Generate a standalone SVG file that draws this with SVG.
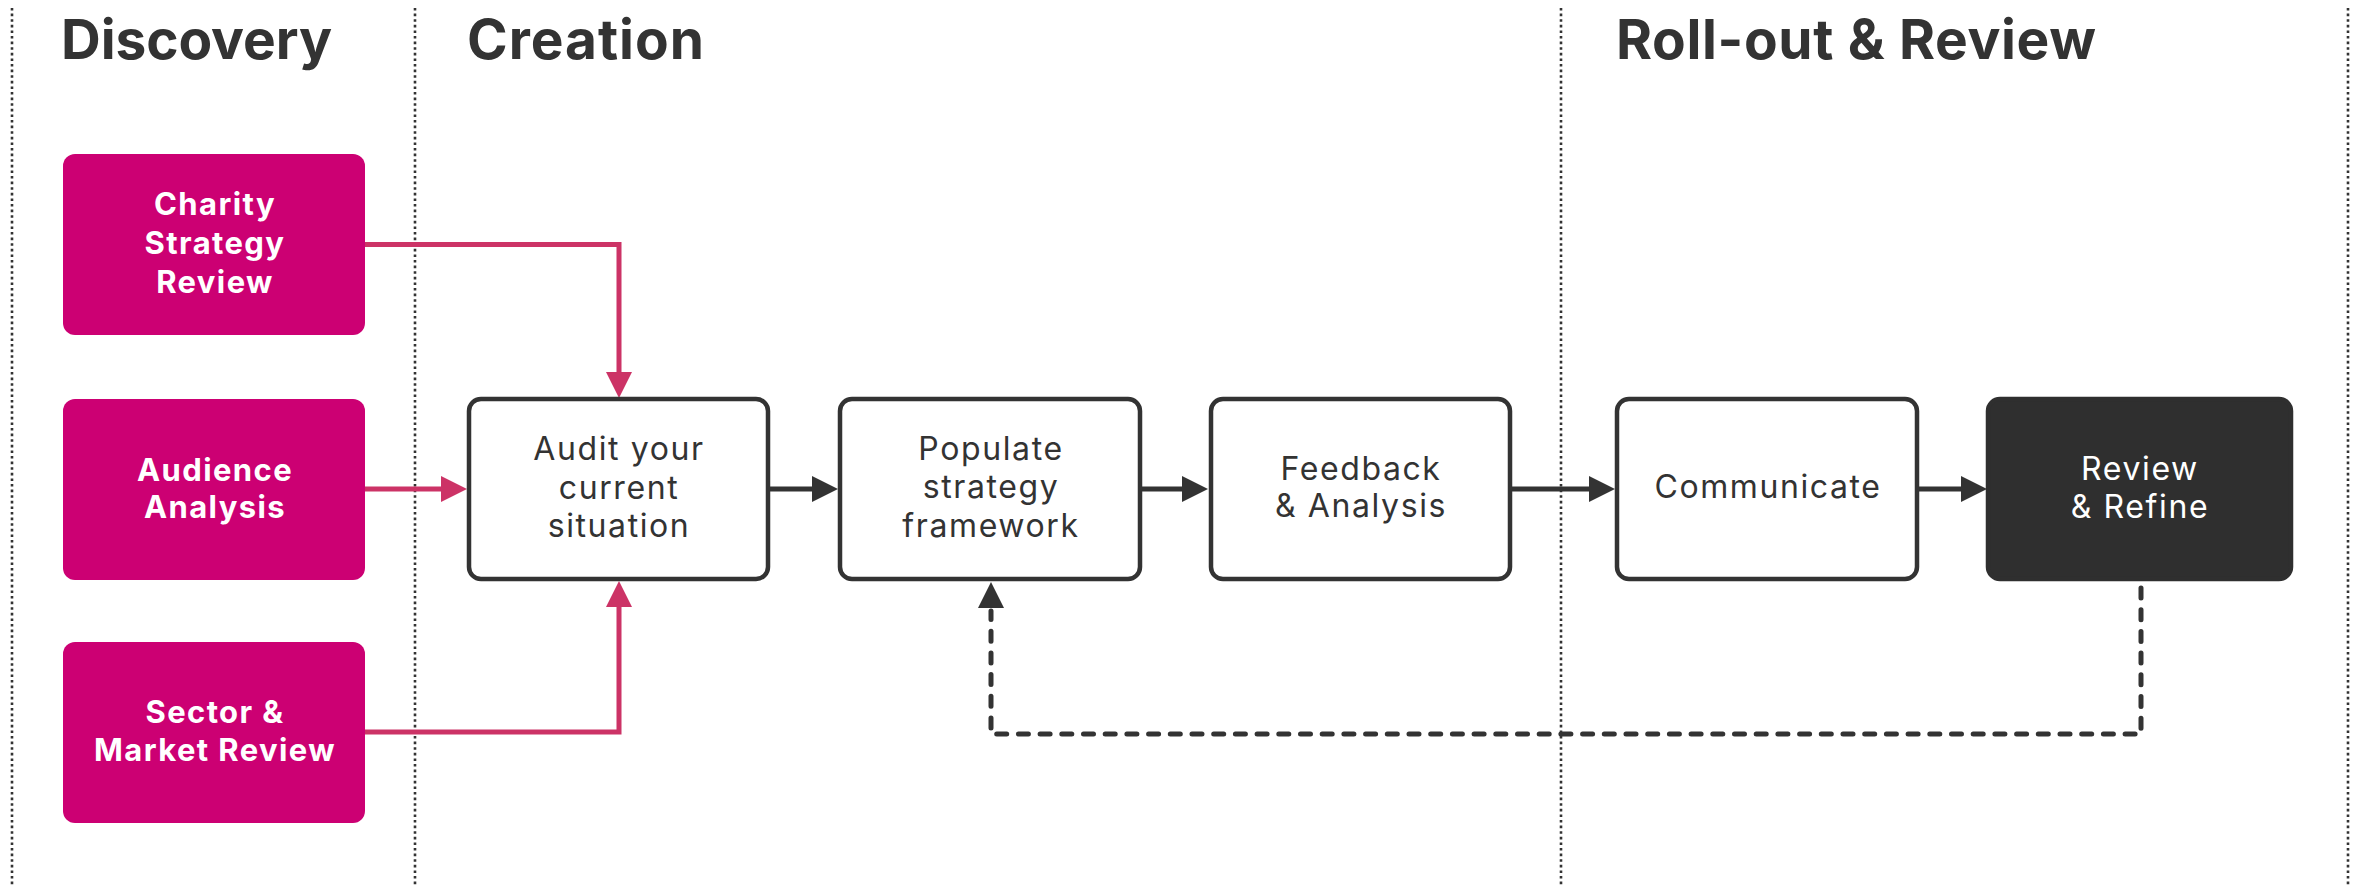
<svg xmlns="http://www.w3.org/2000/svg" width="2356" height="887" viewBox="0 0 2356 887">
  <style>
    .lane { stroke: #333333; stroke-width: 2.6; stroke-dasharray: 2.6 3; fill: none; }
    .heading { font-family: Inter, "Open Sans", sans-serif; font-weight: 700; font-size: 55px; fill: #333333; }
    .source rect { fill: #CC0073; }
    .source text { font-family: Inter, "Open Sans", sans-serif; font-weight: 700; font-size: 31px; letter-spacing: 1.4px; fill: #FFFFFF; text-anchor: middle; }
    .step rect { fill: #FFFFFF; stroke: #333333; stroke-width: 4.5; }
    .step text { font-family: Inter, "Open Sans", sans-serif; font-weight: 400; font-size: 32px; letter-spacing: 1.6px; fill: #333333; text-anchor: middle; }
    .step.dark rect { fill: #2F2F2F; stroke: #2F2F2F; }
    .step.dark text { fill: #FFFFFF; }
    .link-pink { fill: none; stroke: #CC3366; stroke-width: 5; }
    .link-dark { fill: none; stroke: #333333; stroke-width: 5; }
    .link-loop { fill: none; stroke: #333333; stroke-width: 5; stroke-dasharray: 10 11.7; stroke-linecap: round; stroke-linejoin: round; }
  </style>
  <defs>
    <marker id="head-pink" markerUnits="userSpaceOnUse" viewBox="0 0 26 26" markerWidth="26" markerHeight="26" refX="0" refY="13" orient="auto">
      <path d="M0,0 L26,13 L0,26 Z" fill="#CC3366"/>
    </marker>
    <marker id="head-dark" markerUnits="userSpaceOnUse" viewBox="0 0 26 26" markerWidth="26" markerHeight="26" refX="0" refY="13" orient="auto">
      <path d="M0,0 L26,13 L0,26 Z" fill="#333333"/>
    </marker>
  </defs>

  <rect x="0" y="0" width="2356" height="887" fill="#FFFFFF"/>

  <!-- phase lanes -->
  <g id="lanes">
    <line class="lane" x1="12" y1="8" x2="12" y2="887"/>
    <line class="lane" x1="415" y1="8" x2="415" y2="887"/>
    <line class="lane" x1="1561" y1="8" x2="1561" y2="887"/>
    <line class="lane" x1="2348" y1="8" x2="2348" y2="887"/>
  </g>

  <g id="headings">
    <text class="heading" x="61" y="59" textLength="271">Discovery</text>
    <text class="heading" x="467" y="59" textLength="237">Creation</text>
    <text class="heading" x="1616" y="59" textLength="480">Roll-out &amp; Review</text>
  </g>

  <!-- connectors -->
  <g id="connectors">
    <path class="link-pink" d="M365,244.5 H619 V372" marker-end="url(#head-pink)"/>
    <path class="link-pink" d="M365,489 H441" marker-end="url(#head-pink)"/>
    <path class="link-pink" d="M365,732 H619 V607" marker-end="url(#head-pink)"/>
    <path class="link-dark" d="M770,489 H812" marker-end="url(#head-dark)"/>
    <path class="link-dark" d="M1142,489 H1182" marker-end="url(#head-dark)"/>
    <path class="link-dark" d="M1512,489 H1589" marker-end="url(#head-dark)"/>
    <path class="link-dark" d="M1919,489 H1961" marker-end="url(#head-dark)"/>
    <path class="link-loop" d="M2141,588 V734 H991 V611"/>
    <path d="M991,609 V608" fill="none" stroke="none" marker-end="url(#head-dark)"/>
  </g>

  <!-- discovery inputs -->
  <g id="charity-strategy-review" class="source">
    <rect x="63" y="154" width="302" height="181" rx="12"/>
    <text x="215" y="215">Charity</text>
    <text x="215" y="254">Strategy</text>
    <text x="215" y="293">Review</text>
  </g>
  <g id="audience-analysis" class="source">
    <rect x="63" y="399" width="302" height="181" rx="12"/>
    <text x="215" y="481">Audience</text>
    <text x="215" y="518">Analysis</text>
  </g>
  <g id="sector-market-review" class="source">
    <rect x="63" y="642" width="302" height="181" rx="12"/>
    <text x="215" y="723">Sector &amp;</text>
    <text x="215" y="761">Market Review</text>
  </g>

  <!-- process steps -->
  <g id="audit" class="step">
    <rect x="469" y="399" width="299" height="180" rx="12"/>
    <text x="619" y="460">Audit your</text>
    <text x="619" y="499">current</text>
    <text x="619" y="537">situation</text>
  </g>
  <g id="populate" class="step">
    <rect x="840" y="399" width="300" height="180" rx="12"/>
    <text x="991" y="460">Populate</text>
    <text x="991" y="498">strategy</text>
    <text x="991" y="537">framework</text>
  </g>
  <g id="feedback" class="step">
    <rect x="1211" y="399" width="299" height="180" rx="12"/>
    <text x="1361" y="480">Feedback</text>
    <text x="1361" y="517">&amp; Analysis</text>
  </g>
  <g id="communicate" class="step">
    <rect x="1617" y="399" width="300" height="180" rx="12"/>
    <text x="1768" y="498">Communicate</text>
  </g>
  <g id="review-refine" class="step dark">
    <rect x="1988" y="399" width="303" height="180" rx="12"/>
    <text x="2140" y="480">Review</text>
    <text x="2140" y="518">&amp; Refine</text>
  </g>
</svg>
